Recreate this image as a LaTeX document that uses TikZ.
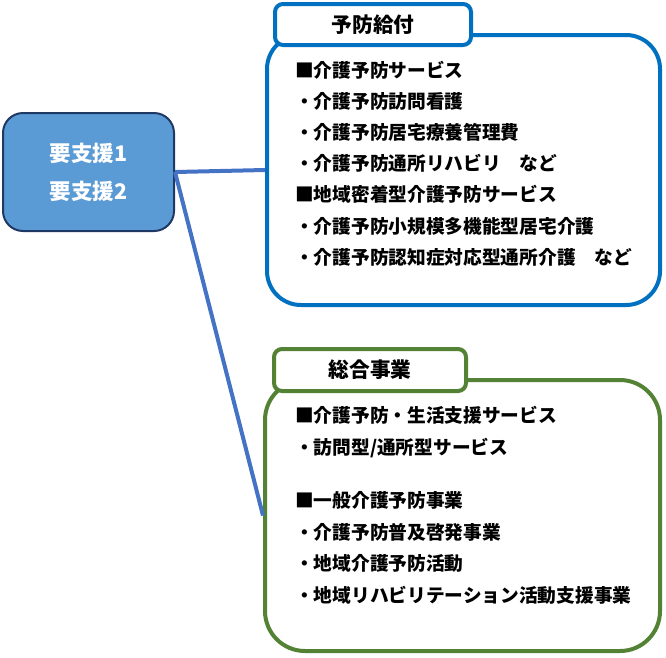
\documentclass[tikz,border=0pt]{standalone}
\usepackage{fontspec}
\setmainfont{Noto Sans CJK JP}
\usepackage{tikz}
\definecolor{sienfill}{HTML}{5B9BD5}
\definecolor{siendraw}{HTML}{1F3864}
\definecolor{yoboublue}{HTML}{0070C0}
\definecolor{sougougreen}{HTML}{548235}
\definecolor{linkblue}{HTML}{4472C4}

\begin{document}
\begin{tikzpicture}[x=1pt, y=-1pt,
    sien/.style ={rounded corners=20pt, draw=siendraw, fill=sienfill, line width=2pt,
      minimum width=171pt, minimum height=118pt, text=white, align=center,
      font=\fontsize{21.5}{38}\selectfont\bfseries},
    group/.style ={rounded corners=34pt, line width=4pt, inner sep=0pt, fill=white},
    title/.style ={rounded corners=8pt, line width=4pt, fill=white, inner sep=0pt,
      font=\fontsize{20.7}{20.7}\selectfont\bfseries},
    item/.style ={anchor=west, inner sep=0pt, text height=16.5pt, text depth=2.2pt,
      font=\fontsize{18.7}{18.7}\selectfont\bfseries},
    link/.style ={draw=linkblue, line width=4pt}]
   \useasboundingbox (0,0) rectangle (666,657);
   % yobou kyuufu
   \node[group, draw=yoboublue, minimum width=393pt, minimum height=270pt] (yobou) at (463.5,170) {};
   \node[title, draw=yoboublue, minimum width=196pt, minimum height=41pt] (yoboutitle) at (373,24.5) {予防給付};
   \foreach \txt [count=\i] in {■介護予防サービス, ・介護予防訪問看護, ・介護予防居宅療養管理費,
       ・介護予防通所リハビリ　など, ■地域密着型介護予防サービス,
       ・介護予防小規模多機能型居宅介護, ・介護予防認知症対応型通所介護　など}
     \node[item] (yobou\i) at (295,{70+31.2*(\i-1)}) {\txt};
   % sougou jigyou
   \node[group, draw=sougougreen, rounded corners=40pt, minimum width=395pt, minimum height=271pt] (sougou) at (462.5,515.5) {};
   \node[title, draw=sougougreen, minimum width=192pt, minimum height=42pt] (sougoutitle) at (370,370) {総合事業};
   \foreach \yy/\txt [count=\i] in {415/{■介護予防・生活支援サービス}, 447/{・訪問型/通所型サービス},
       500/{■一般介護予防事業}, 532/{・介護予防普及啓発事業}, 563/{・地域介護予防活動},
       595/{・地域リハビリテーション活動支援事業}}
     \node[item] (sougou\i) at (295,\yy) {\txt};
   % youshien
   \node[sien] (shien) at (88.5,172) {要支援1\\要支援2};
   \draw[link] (shien.east) to (yobou.west);
   \draw[link] (shien.east) to (sougou.west);
\end{tikzpicture}
\end{document}
